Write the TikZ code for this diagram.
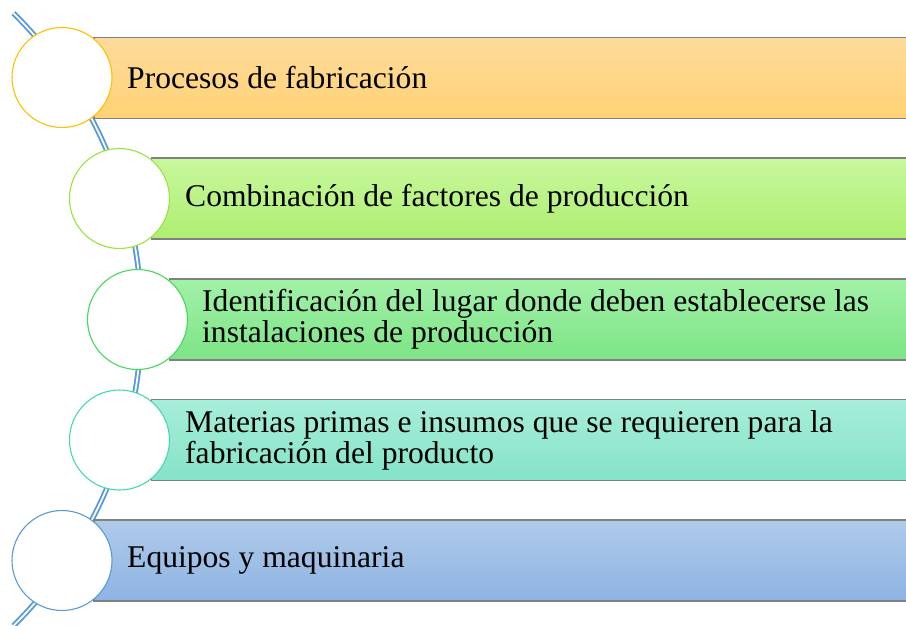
\documentclass[tikz,border=0pt]{standalone}
\usepackage{fontspec}
\setmainfont{Liberation Serif}
\definecolor{arcblue}{HTML}{5B9BD5}
\definecolor{barline}{HTML}{808080}
\definecolor{c1t}{HTML}{FDDB9C}\definecolor{c1b}{HTML}{FFD274}
\definecolor{c2t}{HTML}{C8F89E}\definecolor{c2b}{HTML}{AEEE70}
\definecolor{c3t}{HTML}{A2F1A8}\definecolor{c3b}{HTML}{7DE486}
\definecolor{c4t}{HTML}{A8EEDA}\definecolor{c4b}{HTML}{84E3C7}
\definecolor{c5t}{HTML}{B0CAEA}\definecolor{c5b}{HTML}{8DB4E2}
\definecolor{r1}{HTML}{FFC000}
\definecolor{r2}{HTML}{9BE33F}
\definecolor{r3}{HTML}{46DA5C}
\definecolor{r4}{HTML}{44D9B5}
\definecolor{r5}{HTML}{5B9BD5}
\tikzset{
  barbox/.style={draw=barline, line width=1.8pt, minimum height=81pt, minimum width=820pt, anchor=west, inner sep=0pt},
  ring/.style={circle, fill=white, line width=1.1pt, minimum size=100pt, inner sep=0pt},
  label/.style={anchor=west, align=left, inner sep=0pt, font=\fontsize{31.6}{31}\selectfont, text=black}
}
\begin{document}
\begin{tikzpicture}[x=1pt,y=-1pt]
\useasboundingbox (0,0) rectangle (906,626);
\clip (0,0) rectangle (906,626);
% spine arc
\coordinate (ac) at (-289.7,319.5);
\draw[arcblue, line width=1.9pt, double=white, double distance=1.7pt]
  (ac) ++(-45.3:431) arc[start angle=-45.3, end angle=45.3, radius=431];
% bars
\node[barbox, top color=c1t, bottom color=c1b] (b1) at (93,78) {};
\node[barbox, top color=c2t, bottom color=c2b] (b2) at (150.5,198.5) {};
\node[barbox, top color=c3t, bottom color=c3b] (b3) at (168.5,319.5) {};
\node[barbox, top color=c4t, bottom color=c4b] (b4) at (150.5,440) {};
\node[barbox, top color=c5t, bottom color=c5b] (b5) at (93,560.5) {};
% circles
\node[ring, draw=r1] (c1) at (62,77.5) {};
\node[ring, draw=r2] (c2) at (119.5,198.5) {};
\node[ring, draw=r3] (c3) at (137.5,319.5) {};
\node[ring, draw=r4] (c4) at (119.5,440) {};
\node[ring, draw=r5] (c5) at (62,560.5) {};
% labels
\node[label] (t1) at (127,78) {Procesos de fabricación};
\node[label] (t2) at (185,198.5) {Combinación de factores de producción};
\node[label] (t3) at (202,319.5) {Identificación del lugar donde deben establecerse las\\instalaciones de producción};
\node[label] (t4) at (185,440) {Materias primas e insumos que se requieren para la\\fabricación del producto};
\node[label] (t5) at (127,560.5) {Equipos y maquinaria};
\end{tikzpicture}
\end{document}
